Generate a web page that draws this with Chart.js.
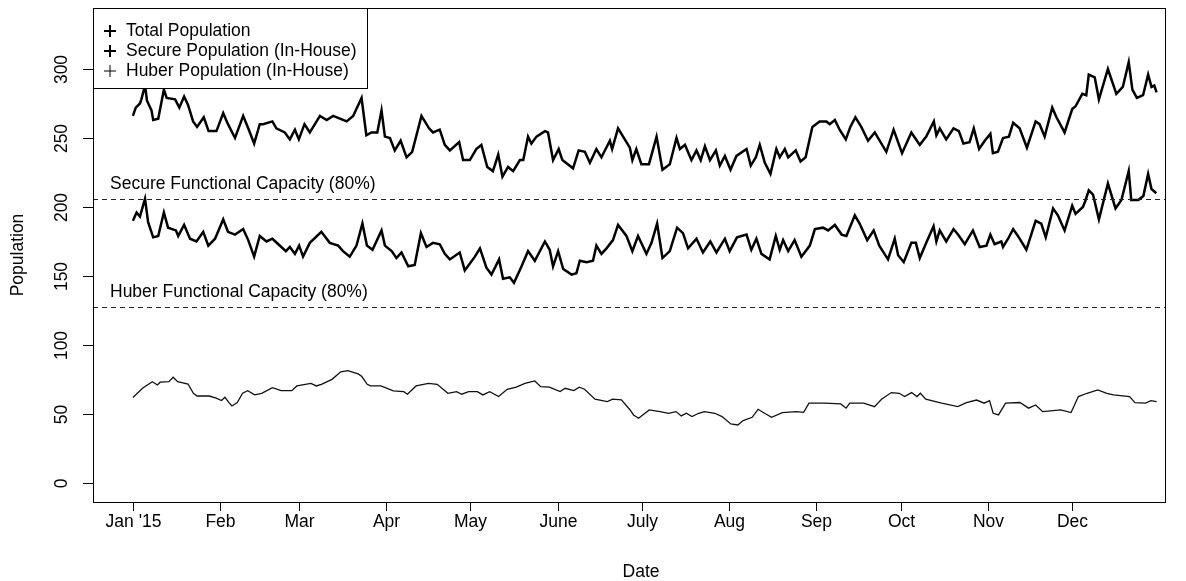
<!DOCTYPE html>
<html>
<head>
<meta charset="utf-8">
<script src="https://cdn.jsdelivr.net/npm/chart.js@4.4.1/dist/chart.umd.min.js"></script>
<style>
  body { margin: 0; background: #fff; }
  canvas { display: block; }
</style>
</head>
<body>
<canvas id="popChart" width="1186" height="581"></canvas>
<script>
// days since Jan 1 2015
const totalDays = [0,1,2.5,3,4.3,5,6.6,7.2,9,11,12,15,16.5,18.2,19.6,21.4,22.8,25.2,26.9,29.7,32.1,33.8,36.3,39.2,41,43.1,45.1,46.3,49.6,51,54,55.8,57.6,59,61,62.9,66.5,68.9,71.2,76,78.3,81.3,83,84.8,86.9,88.4,89.6,91.4,93.1,95.2,97.3,99.3,102.6,105.3,106.7,109.1,110.9,112.7,116,117.4,119.8,122.1,123.9,126,128,129.9,131.4,133.4,135.2,137.6,138.8,140.5,141.7,143.5,146.5,147.6,149.4,151.4,152.7,156.5,158.5,160.7,162.5,164.8,166.6,169.6,170.4,172.5,176.7,177.6,179,180.8,183.5,186.2,188.3,190.9,193.3,194.5,196.3,198.6,200.4,201.9,203.4,205.2,207.3,208.7,210.5,212.5,214.6,218.2,219.7,221.5,222.9,224.7,226.7,228.8,230,231.8,233,235.7,237.4,239.2,241.6,244.2,246.6,247.8,249.6,251.3,253.5,255.1,256.9,259,261.4,263.8,267.9,270.5,273.5,276.8,279.8,282.1,284.8,285.7,286.9,289.2,291.8,293.7,295.3,297.5,299,300.9,302.9,304.9,305.8,307.6,309.4,311.5,313,315.3,317.9,321,322.4,324.2,326.9,328.4,331.3,334,335.2,337.6,339,339.9,342,343.5,346.7,349.7,352,354.1,355.4,357,359.2,361,362.2,363.2,364];
const totalPop = [266,272,275,278,288,277,270,263,264,285,279,278,272,280,274,262,258,265,255,255,268,260,250,266,257,246,260,260,262,257,254,249,256,249,260,254,266,263,266,262,266,279,252,254,254,270,251,250,241,248,236,240,266,257,254,256,245,241,247,234,234,242,245,229,226,238,222,229,226,234,234,251,246,251,255,254,234,242,234,228,241,240,232,242,236,248,242,257,243,234,242,231,231,251,227,231,250,242,245,234,241,234,244,234,241,230,237,227,237,242,230,236,245,232,224,242,236,242,236,241,233,236,258,262,262,260,263,256,249,258,265,258,248,254,240,256,239,254,245,251,262,252,257,249,257,255,246,247,257,242,248,253,239,240,250,251,261,257,243,262,260,251,272,265,254,271,273,282,281,296,294,278,300,282,287,305,285,279,281,296,287,288,283];

const secureDays = [0,1.3,2.5,4.3,5.4,7.2,9,11,12.5,15.3,16.1,18.2,20.3,22.6,25,26.8,29.2,32.1,33.8,36.3,39.2,41,43.1,45.1,47.5,49.6,51.7,54.4,55.8,57.6,59.1,60.5,62.9,67,70,73,74.7,77.1,79.5,81.6,83.2,85.2,88.4,89.6,92,93.7,95.5,97.9,100.2,102.4,104.4,106.7,109.1,110.9,112.7,116.2,118,121.6,123.4,125.7,127.5,130.2,131.6,134,135.5,138.2,140.5,142.9,146.5,148.2,149.4,151.2,153,156,157.7,158.9,161.3,163.6,164.8,166.6,168.4,170.7,172.5,175.5,177.6,179.6,182.6,184.4,186.4,188.3,190.9,193.5,195.6,197.4,200.4,202.7,205.3,207.5,210.5,212.2,214.8,218.2,219.9,221.7,223.5,226.4,228.6,230,231.2,233,235.3,237.7,240.7,242.5,245.4,247.2,249.6,252,253.7,256.7,258.4,261.1,263.4,265.4,268.5,270.9,272.1,274.1,276.8,278.4,279.8,282.1,284.7,285.7,286.9,289.2,291.8,293.4,295.8,298.7,301.1,303.5,304.9,306.4,308.8,309.4,311.2,313,314.7,317.7,321,323,324.6,327.2,328.9,331.3,334,335.2,337.8,338.6,339.9,341.4,343.5,346.7,349.4,351.5,354.1,355,357.5,359.3,361,362.2,363.9];
const securePop = [190,196,193,206,189,178,179,196,185,183,179,187,177,175,182,172,177,191,182,180,184,176,164,179,175,177,173,168,171,166,172,164,174,182,174,172,168,164,172,188,172,169,183,172,168,163,167,157,158,181,171,174,173,166,162,167,154,164,170,156,151,162,148,149,145,157,168,161,175,169,157,168,155,151,152,161,160,161,172,166,170,176,187,179,168,179,166,174,188,163,168,185,181,170,177,167,175,167,177,168,178,180,169,177,166,162,179,169,176,168,176,164,172,184,185,183,187,180,179,194,188,176,183,172,162,177,165,160,174,174,163,174,186,175,183,175,184,180,173,183,171,172,180,173,175,171,177,184,179,169,190,188,178,199,194,183,201,195,200,204,212,209,191,217,199,205,226,205,205,208,224,213,210];

const huberDays = [0,3.4,6.9,8.7,9.7,12.8,14.3,15.9,19.6,21.5,22.8,27.1,29.6,31.5,32.7,34.3,35.2,37.1,39,40.8,43.3,45.8,49.6,52.7,56.5,58.3,63.3,65.2,67,70.8,73.9,76.4,80.1,81.4,83.3,84.5,88.2,92.6,96.3,97.6,100.7,105.1,108.2,112,115.1,116.9,119.4,122.5,124.4,126.9,130,133.1,136.3,139.4,142.9,145,148.1,151.9,153.7,156.8,158.7,160.6,164.3,168.7,170.6,173.7,176.8,178,179.8,183.6,187.4,190.5,193.1,195,196.8,198.8,201.2,203.2,206.9,209.5,212.6,215.1,217,220.2,222.3,224.6,227.1,230.9,235.9,238.5,240.4,246,251.7,253.6,254.9,259.9,263.7,266.2,269.7,272.5,274.4,276.9,278.8,280,281.9,287.6,293.3,296.4,300,302.7,304.6,305.9,307.8,310.3,315.4,318.5,321,323.5,329.9,333.6,336.2,339.3,343.1,346.3,348.7,354.4,356.3,360.1,362,364];
const huberPop = [62,68.6,73.4,71,73,73.4,76.6,73.4,71.7,65,63,63,61.4,59.7,62.1,57.8,55.8,58.2,65,66.9,63.8,65,69.1,66.9,66.9,70.3,72.2,70.3,71.5,75.1,80.6,81.4,79,77.1,71.5,70.3,70.3,66.7,66.2,64.3,70.3,72.2,71.5,65,66.2,64.3,66.2,66.2,63.8,66.2,62.6,67.9,69.4,72.2,73.9,69.8,69.4,66.2,68.6,66.9,69.4,67.9,60.7,59,60.7,60.2,52.9,49.3,46.9,52.9,51.7,50.5,51.7,48.6,50.5,48.1,50.5,51.7,50.5,48.1,42.8,42,45.2,47.6,53.4,50.5,47.6,51,51.7,51.2,57.8,57.8,57.3,54.2,57.8,57.8,55.3,60.7,65.5,65,62.6,65.5,62.6,65,60.7,57.8,55.3,58.2,60.1,57.8,59.7,50.5,49.3,57.8,58.3,54.2,56.5,51.7,52.9,51,62.6,65,67.4,65,63.8,62.6,58.2,57.8,59.7,59];

const secureCapacity = 206;
const huberCapacity = 127.5;

const monthDays = [0,31,59,90,120,151,181,212,243,273,304,334];
const monthLabels = ["Jan '15","Feb","Mar","Apr","May","June","July","Aug","Sep","Oct","Nov","Dec"];
const yTicks = [0,50,100,150,200,250,300];

const legendLabels = ["Total Population", "Secure Population (In-House)", "Huber Population (In-House)"];
const legendWidths = [2, 2, 1];

const FONT = '17.5px "Liberation Sans", Arial, sans-serif';

function toPoints(days, vals) {
  return days.map((d, i) => ({ x: d, y: vals[i] }));
}

const rBase = {
  id: 'rBase',
  beforeDraw(chart) {
    const c = chart.ctx;
    c.save();
    c.fillStyle = '#fff';
    c.fillRect(0, 0, chart.width, chart.height);
    c.restore();
  },
  afterDatasetsDraw(chart) {
    const c = chart.ctx;
    const a = chart.chartArea;
    const xs = chart.scales.x, ys = chart.scales.y;
    c.save();

    // capacity lines
    c.strokeStyle = '#222';
    c.lineWidth = 1;
    c.setLineDash([5, 4]);
    [secureCapacity, huberCapacity].forEach(v => {
      const y = Math.round(ys.getPixelForValue(v)) + 0.5;
      c.beginPath();
      c.moveTo(a.left, y);
      c.lineTo(a.right, y);
      c.stroke();
    });
    c.setLineDash([]);

    c.fillStyle = '#000';
    c.font = FONT;
    c.textBaseline = 'middle';
    c.textAlign = 'left';
    c.fillText('Secure Functional Capacity (80%)', a.left + 17, ys.getPixelForValue(secureCapacity) - 15);
    c.fillText('Huber Functional Capacity (80%)', a.left + 17, ys.getPixelForValue(huberCapacity) - 15);

    // legend
    const lx = a.left, ly = a.top, lw = 274, lh = 80;
    c.fillStyle = '#fff';
    c.fillRect(lx, ly, lw, lh);
    c.strokeStyle = '#000';
    c.lineWidth = 1;
    c.strokeRect(lx + 0.5, ly + 0.5, lw, lh);
    legendLabels.forEach((t, i) => {
      const cy = ly + 23 + i * 20;
      const cx = lx + 17;
      c.lineWidth = legendWidths[i];
      c.beginPath();
      c.moveTo(cx - 6, cy); c.lineTo(cx + 6, cy);
      c.moveTo(cx, cy - 6); c.lineTo(cx, cy + 6);
      c.stroke();
      c.fillStyle = '#000';
      c.fillText(t, lx + 33, cy);
    });

    // plot box
    c.lineWidth = 1;
    c.strokeRect(a.left + 0.5, a.top + 0.5, a.right - a.left, a.bottom - a.top);

    // y axis ticks and rotated labels
    c.textAlign = 'center';
    yTicks.forEach(v => {
      const y = Math.round(ys.getPixelForValue(v)) + 0.5;
      c.beginPath();
      c.moveTo(a.left - 10, y); c.lineTo(a.left, y);
      c.stroke();
      c.save();
      c.translate(a.left - 31, y);
      c.rotate(-Math.PI / 2);
      c.fillText(String(v), 0, 0);
      c.restore();
    });

    // x axis ticks and labels
    monthDays.forEach((d, i) => {
      const x = Math.round(xs.getPixelForValue(d)) + 0.5;
      c.beginPath();
      c.moveTo(x, a.bottom); c.lineTo(x, a.bottom + 9);
      c.stroke();
      c.fillText(monthLabels[i], x, a.bottom + 20);
    });

    // axis titles
    c.fillText('Date', 641, a.bottom + 70);
    c.save();
    c.translate(18, (a.top + a.bottom) / 2);
    c.rotate(-Math.PI / 2);
    c.fillText('Population', 0, 0);
    c.restore();

    c.restore();
  }
};

new Chart(document.getElementById('popChart').getContext('2d'), {
  type: 'line',
  data: {
    datasets: [
      { label: legendLabels[0], data: toPoints(totalDays, totalPop), borderColor: '#000', borderWidth: 2.5, pointRadius: 0, tension: 0 },
      { label: legendLabels[1], data: toPoints(secureDays, securePop), borderColor: '#000', borderWidth: 2.5, pointRadius: 0, tension: 0 },
      { label: legendLabels[2], data: toPoints(huberDays, huberPop), borderColor: '#111', borderWidth: 1.3, pointRadius: 0, tension: 0 }
    ]
  },
  options: {
    responsive: false,
    animation: false,
    devicePixelRatio: 1,
    layout: { padding: { left: 93, right: 21, top: 8, bottom: 79 } },
    plugins: { legend: { display: false }, tooltip: { enabled: false } },
    scales: {
      x: { type: 'linear', min: -14.2, max: 367, display: false },
      y: { min: -13.8, max: 344.2, display: false }
    }
  },
  plugins: [rBase]
});
</script>
</body>
</html>
